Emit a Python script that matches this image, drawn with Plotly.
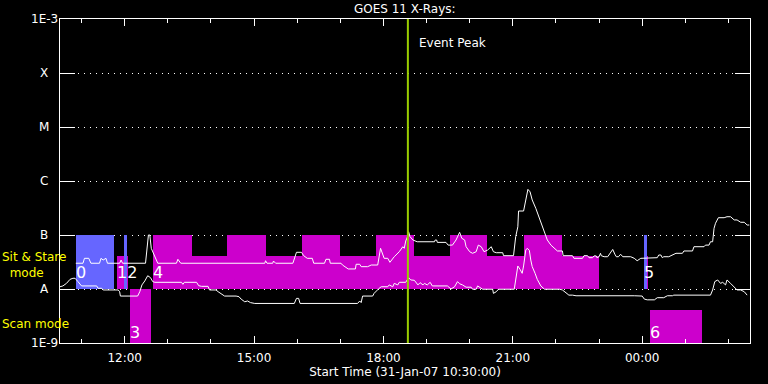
import math
import plotly.graph_objects as go

# ---------------- data ----------------
# GOES 11 long channel (1-8 A), upper curve
long_times = ["10:52","11:02","11:04","11:10","11:13","11:25","11:27","11:30","11:34","11:36",
              "11:53","11:55","11:57","12:29","12:33","12:35","12:37","12:42","12:46","13:12",
              "13:14","13:18","15:15","15:16","15:18","15:26","15:27","15:30","15:54","15:59",
              "16:06","16:09","16:14","16:21","16:23","16:38","16:40","16:45","16:46","17:01",
              "17:03","17:11","17:21","17:22","17:27","17:29","17:38","17:43","17:52","17:56",
              "18:01","18:06","18:09","18:15","18:22","18:27","18:29","18:31","18:34","18:35",
              "18:37","18:41","18:47","19:11","19:12","19:14","19:15","19:27","19:30","19:36",
              "19:41","19:46","19:49","19:53","19:55","20:00","20:04","20:09","20:12","20:16",
              "20:20","20:25","20:30","20:33","20:37","20:46","20:47","21:01","21:02","21:04",
              "21:07","21:08","21:15","21:17","21:19","21:21","21:24","21:27","21:32","21:37",
              "21:41","21:45","21:48","21:53","21:58","22:02","22:09","22:10","22:23","22:25",
              "22:37","22:39","22:44","22:46","22:51","22:53","22:56","22:57","23:00","23:02",
              "23:03","23:07","23:12","23:15","23:19","23:22","23:24","23:27","23:30","23:33",
              "23:44","23:49","23:53","23:58","00:03","00:05","00:21","00:23","00:26","00:28",
              "00:30","00:37","00:42","00:44","00:47","00:56","00:58","01:10","01:12","01:26",
              "01:28","01:33","01:35","01:38","01:40","01:42","01:46","01:54","01:58","02:03",
              "02:08","02:12","02:17","02:22","02:26","02:29"]
long_flux = [3.0e-8,3.0e-8,3.7e-8,3.7e-8,3.0e-8,3.0e-8,3.7e-8,3.44e-8,3.7e-8,3.0e-8,
             3.0e-8,3.44e-8,3.0e-8,3.0e-8,1.0e-7,1.0e-7,5.67e-8,3.96e-8,3.0e-8,3.0e-8,
             3.55e-8,3.0e-8,3.0e-8,3.34e-8,3.0e-8,3.0e-8,3.3e-8,3.0e-8,3.0e-8,4.78e-8,
             4.78e-8,4.14e-8,3.7e-8,3.7e-8,3.0e-8,3.0e-8,3.55e-8,3.55e-8,3.0e-8,3.0e-8,
             2.78e-8,2.35e-8,2.35e-8,2.87e-8,2.87e-8,2.59e-8,2.59e-8,2.78e-8,2.78e-8,5.67e-8,
             3.7e-8,3.7e-8,3.12e-8,3.96e-8,4.9e-8,6.07e-8,5.67e-8,7.74e-8,9.6e-8,1.15e-7,
             9.3e-8,8.08e-8,7.5e-8,7.5e-8,8.08e-8,8.08e-8,7.3e-8,7.3e-8,6.5e-8,6.5e-8,
             8.08e-8,1.12e-7,8.7e-8,8.08e-8,6.07e-8,4.9e-8,4.58e-8,4.9e-8,6.5e-8,6.07e-8,
             4.9e-8,5.27e-8,6.07e-8,4.9e-8,4.7e-8,4.7e-8,4.14e-8,4.14e-8,5.27e-8,9.3e-8,
             1.42e-7,2.78e-7,2.78e-7,3.86e-7,5.9e-7,7.0e-7,6.3e-7,4.45e-7,3.12e-7,2.04e-7,
             1.42e-7,1.07e-7,8.08e-8,6.5e-8,5.67e-8,5.06e-8,5.06e-8,4.14e-8,4.14e-8,3.7e-8,
             3.7e-8,4.14e-8,4.14e-8,3.8e-8,3.8e-8,4.1e-8,4.1e-8,3.8e-8,3.96e-8,4.58e-8,
             4.14e-8,3.96e-8,3.96e-8,4.58e-8,5.4e-8,4.4e-8,3.96e-8,3.96e-8,4.4e-8,3.96e-8,
             3.96e-8,3.7e-8,3.34e-8,3.7e-8,3.7e-8,3.8e-8,3.8e-8,4.26e-8,4.26e-8,3.8e-8,
             3.96e-8,3.96e-8,4.26e-8,4.26e-8,4.58e-8,4.58e-8,5.06e-8,5.06e-8,6.07e-8,6.07e-8,
             6.5e-8,6.5e-8,7.5e-8,7.5e-8,1.33e-7,1.65e-7,2.09e-7,2.09e-7,2.18e-7,2.18e-7,
             1.9e-7,1.9e-7,1.72e-7,1.72e-7,1.53e-7,1.53e-7]

# GOES 11 short channel (0.5-4 A), lower curve
short_times = ["10:30","10:34","10:39","10:44","10:48","10:51","10:55","11:00","11:21","11:23",
               "11:28","11:30","11:51","11:53","11:54","12:18","12:21","12:24","12:28","12:32",
               "12:36","12:39","12:42","13:19","13:21","13:23","13:40","13:43","13:47","13:56",
               "13:58","14:07","14:10","14:14","14:19","14:35","14:39","14:42","14:47","14:51",
               "14:55","15:01","15:56","15:59","16:02","16:04","17:24","17:27","17:29","17:31",
               "17:45","17:47","17:51","17:54","17:57","18:06","18:08","18:13","18:15","18:20",
               "18:22","18:31","18:35","18:38","18:43","18:48","18:51","18:55","18:57","19:01",
               "19:05","19:08","19:29","19:32","19:34","19:39","19:43","19:46","19:50","19:55",
               "20:02","20:04","20:09","20:11","20:15","20:18","20:32","20:33","20:37","20:40",
               "21:02","21:04","21:07","21:10","21:13","21:15","21:18","21:20","21:23","21:25",
               "21:27","21:31","21:34","21:39","21:44","22:05","22:09","22:14","22:18","22:23",
               "22:28","23:49","23:53","00:00","00:03","00:07","00:17","00:21","00:30","00:35",
               "00:42","00:44","01:35","01:38","01:41","01:45","01:49","01:52","01:56","01:58",
               "02:03","02:08","02:12","02:17","02:22","02:26"]
short_flux = [1.10e-8,1.14e-8,1.27e-8,1.51e-8,1.58e-8,1.58e-8,1.37e-8,1.14e-8,1.14e-8,1.03e-8,
              1.03e-8,9.6e-9,9.6e-9,8.9e-9,7.4e-9,7.4e-9,8.9e-9,1.19e-8,1.41e-8,1.76e-8,
              1.62e-8,1.37e-8,1.33e-8,1.33e-8,1.22e-8,1.33e-8,1.33e-8,1.15e-8,1.12e-8,1.12e-8,
              9.6e-9,9.6e-9,8.9e-9,8.1e-9,7.4e-9,7.4e-9,7.2e-9,6.5e-9,5.8e-9,6.0e-9,
              5.6e-9,5.4e-9,5.4e-9,6.7e-9,6.7e-9,5.4e-9,5.4e-9,6.0e-9,5.6e-9,7.4e-9,
              7.4e-9,8.3e-9,9.6e-9,1.03e-8,1.10e-8,1.10e-8,1.19e-8,1.10e-8,1.27e-8,1.19e-8,
              1.33e-8,1.33e-8,1.62e-8,1.47e-8,1.45e-8,1.19e-8,1.31e-8,1.19e-8,1.27e-8,1.19e-8,
              1.33e-8,1.14e-8,1.14e-8,1.06e-8,1.0e-8,1.10e-8,1.37e-8,1.25e-8,1.19e-8,1.08e-8,
              1.08e-8,9.9e-9,9.9e-9,1.14e-8,1.06e-8,9.9e-9,9.9e-9,8.3e-9,8.9e-9,9.9e-9,
              9.9e-9,1.47e-8,2.67e-8,2.32e-8,1.95e-8,2.67e-8,5.27e-8,5.67e-8,5.2e-8,3.44e-8,
              2.59e-8,1.95e-8,1.51e-8,1.14e-8,9.9e-9,9.9e-9,9.6e-9,8.5e-9,7.7e-9,7.7e-9,
              7.5e-9,7.5e-9,7.4e-9,7.4e-9,6.5e-9,6.3e-9,6.3e-9,6.9e-9,6.9e-9,7.5e-9,
              7.5e-9,7.7e-9,7.7e-9,9.6e-9,1.37e-8,1.47e-8,1.27e-8,1.33e-8,1.19e-8,1.47e-8,
              1.27e-8,1.10e-8,9.6e-9,9.6e-9,8.9e-9,7.7e-9]

# observing-mode blocks
block_start  = ["11:49","12:08","12:40","12:40","14:23","16:06","17:49","19:32","21:16","00:06","00:11",
                "10:52","11:59","00:03"]
block_end    = ["12:05","12:36","23:00","13:33","15:16","16:59","18:42","20:24","22:09","00:08","01:23",
                "11:45","12:03","00:06"]
block_bottom = [1e-8,1e-9,1e-8,1e-8,1e-8,1e-8,1e-8,1e-8,1e-8,1e-8,1e-9,
                1e-8,1e-8,1e-8]
block_top    = [4.1e-8,1e-8,4.1e-8,1e-7,1e-7,1e-7,1e-7,1e-7,1e-7,4.1e-8,4.1e-9,
                1e-7,1e-7,1e-7]
block_kind   = ["raster"]*11 + ["point"]*3

label_text = ["0","12","3","4","5","6"]
label_time = ["10:52","11:49","12:08","12:40","00:03","00:11"]
label_mode = ["stare","stare","scan","stare","stare","scan"]

y_tick_values = [1e-9, 1e-8, 1e-7, 1e-6, 1e-5, 1e-4, 1e-3]
y_tick_labels = ["1E-9", "A", "B", "C", "M", "X", "1E-3"]

event_peak = "18:34"
start_time = "2007-01-31 10:30"
end_time = "2007-02-01 02:30"


def to_dt(hhmm):
    day = "2007-01-31" if int(hhmm[:2]) >= 10 else "2007-02-01"
    return f"{day} {hhmm}"


def minutes(hhmm):
    h, m = int(hhmm[:2]), int(hhmm[3:5])
    if h < 10:
        h += 24
    return h * 60 + m


def mid_dt(a, b):
    mm = (minutes(a) + minutes(b)) / 2.0
    h = int(mm // 60)
    m = mm - h * 60
    day = "2007-01-31" if h < 24 else "2007-02-01"
    h = h % 24
    sec = int(round((m - int(m)) * 60))
    return f"{day} {h:02d}:{int(m):02d}:{sec:02d}"


kind_color = {"raster": "#cc00cc", "point": "#6666ff"}

fig = go.Figure()

for kind in ["raster", "point"]:
    idx = [i for i, k in enumerate(block_kind) if k == kind]
    fig.add_trace(go.Bar(
        x=[mid_dt(block_start[i], block_end[i]) for i in idx],
        y=[block_top[i] - block_bottom[i] for i in idx],
        base=[block_bottom[i] for i in idx],
        width=[(minutes(block_end[i]) - minutes(block_start[i])) * 60000 for i in idx],
        marker=dict(color=kind_color[kind], line=dict(width=0)),
        hoverinfo="skip",
    ))

fig.add_trace(go.Scatter(x=[to_dt(t) for t in long_times], y=long_flux, mode="lines",
                         line=dict(color="white", width=1), name="1-8 A"))
fig.add_trace(go.Scatter(x=[to_dt(t) for t in short_times], y=short_flux, mode="lines",
                         line=dict(color="white", width=1), name="0.5-4 A"))

annotations = []
for lab, val in zip(y_tick_labels, y_tick_values):
    annotations.append(dict(x=0, xref="paper", xshift=-16, xanchor="center", y=math.log10(val), yref="y",
                            text=lab, showarrow=False, font=dict(size=12, color="white")))

mode_y = {"stare": math.log10(1e-8) + 0.30, "scan": math.log10(1e-9) + 0.20}
for txt, t, md in zip(label_text, label_time, label_mode):
    annotations.append(dict(x=to_dt(t), xref="x", xanchor="left", xshift=-2, y=mode_y[md], yref="y",
                            text=txt, showarrow=False, font=dict(size=16, color="white")))

annotations += [
    dict(x=0, xref="paper", xshift=-60, xanchor="left", y=-7.56, yref="y",
         text="Sit & Stare<br>\u00a0\u00a0mode", align="left",
         showarrow=False, font=dict(size=12, color="#ffff00")),
    dict(x=0, xref="paper", xshift=-60, xanchor="left", y=-8.64, yref="y", text="Scan mode",
         showarrow=False, font=dict(size=12, color="#ffff00")),
    dict(x=to_dt(event_peak), xref="x", xshift=9, xanchor="left", y=-3.444, yref="y", text="Event Peak",
         showarrow=False, font=dict(size=12, color="white")),
]

fig.add_shape(type="line", x0=to_dt(event_peak), x1=to_dt(event_peak), xref="x", y0=0, y1=1, yref="paper",
              line=dict(color="#99cc00", width=2))

fig.update_layout(
    width=768, height=384,
    margin=dict(l=60, r=18, t=19, b=41),
    paper_bgcolor="black", plot_bgcolor="black",
    showlegend=False, barmode="overlay", bargap=0,
    font=dict(family="DejaVu Sans", color="white", size=12),
    title=dict(text="GOES 11 X-Rays:", x=0.527, xanchor="center", y=1 - 8.5 / 384, yanchor="middle",
               font=dict(size=12, color="white")),
    annotations=annotations,
    xaxis=dict(
        type="date", range=[start_time, end_time], showgrid=False, zeroline=False, automargin=False,
        tickformat="%H:%M", tick0="2007-01-31 12:00", dtick=3 * 3600000,
        ticks="inside", ticklen=7, tickcolor="white", tickwidth=1,
        showline=True, linecolor="white", linewidth=1, mirror="ticks",
        minor=dict(tick0="2007-01-31 11:00", dtick=3600000, ticks="inside", ticklen=4,
                   tickcolor="white", showgrid=False),
        tickfont=dict(size=12, color="white"), ticklabelstandoff=4,
        title=dict(text="Start Time (31-Jan-07 10:30:00)", standoff=2, font=dict(size=12, color="white")),
    ),
    yaxis=dict(
        type="log", range=[-9, -3], tickvals=y_tick_values, showticklabels=False, automargin=False,
        ticks="inside", ticklen=15, tickcolor="white", tickwidth=1,
        showline=True, linecolor="white", linewidth=1, mirror="ticks",
        showgrid=True, gridcolor="white", gridwidth=1, griddash="1px,5px", zeroline=False,
    ),
)

fig.write_html("out.html", config={"displayModeBar": False},
               post_script="document.body.style.margin='0';document.body.style.background='black';")
